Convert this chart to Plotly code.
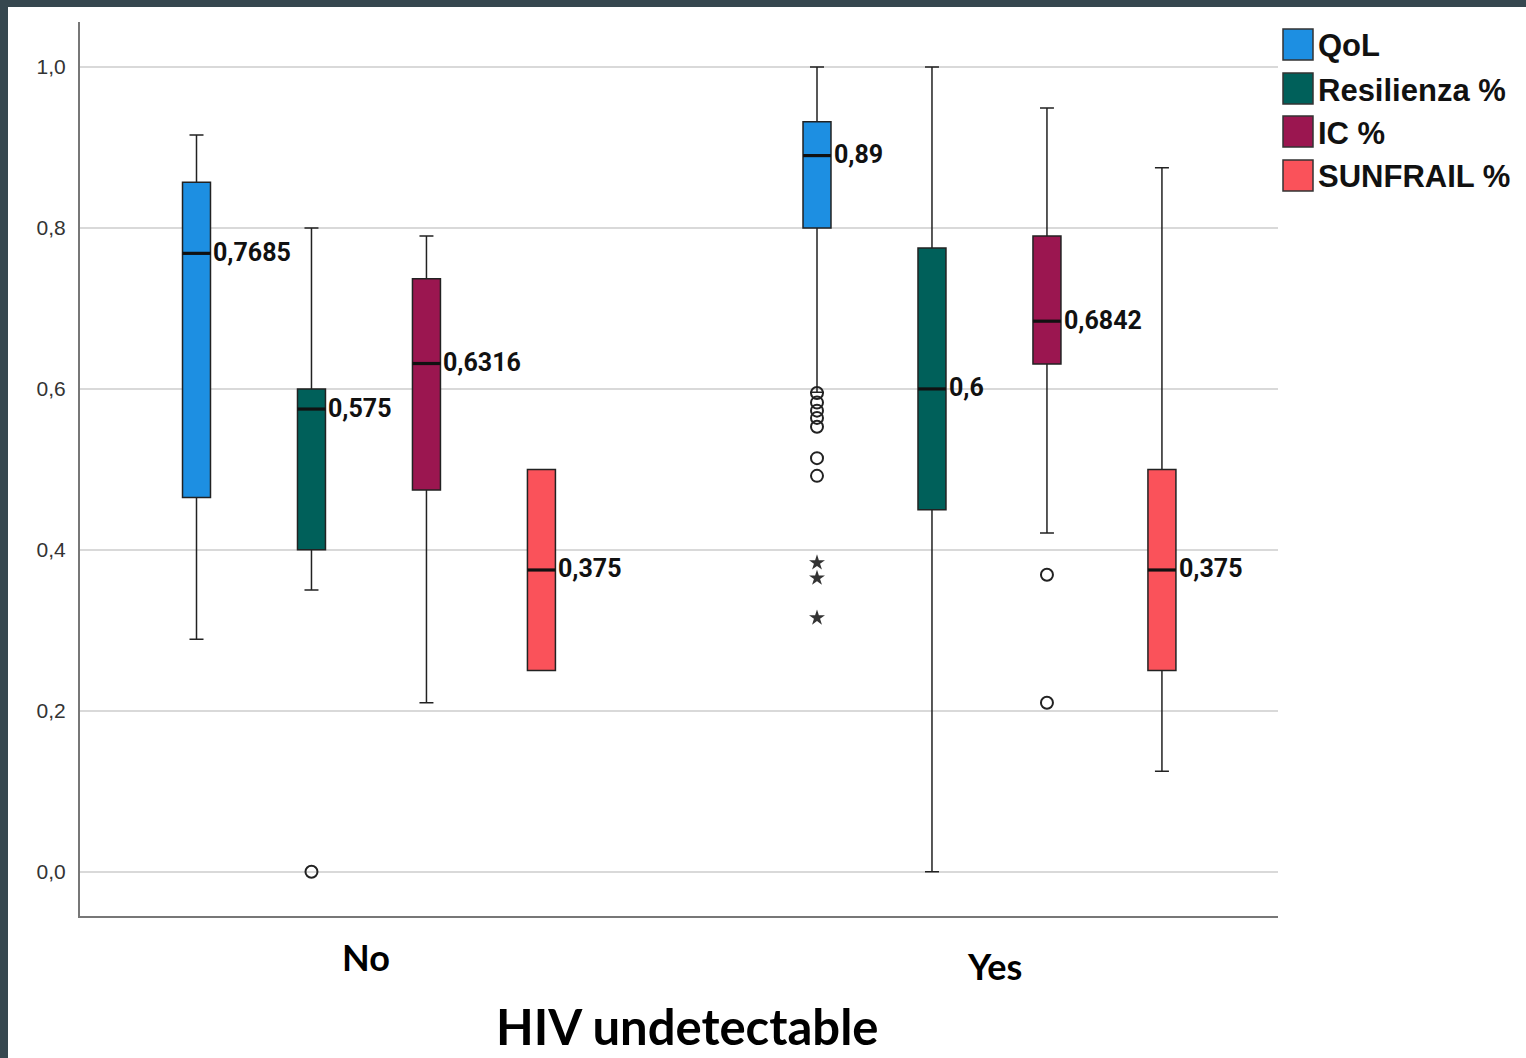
import plotly.graph_objects as go

# ---- data ---------------------------------------------------------------
groups = ["No", "Yes"]
series = ["QoL", "Resilienza %", "IC %", "SUNFRAIL %"]
colors = ["#1d8fe2", "#00605a", "#9b1650", "#fa525a"]

# per series: values for [No, Yes]
q1 = {
    "QoL": [0.465, 0.80],
    "Resilienza %": [0.40, 0.45],
    "IC %": [0.4745, 0.631],
    "SUNFRAIL %": [0.25, 0.25],
}
median = {
    "QoL": [0.7685, 0.89],
    "Resilienza %": [0.575, 0.6],
    "IC %": [0.6316, 0.6842],
    "SUNFRAIL %": [0.375, 0.375],
}
q3 = {
    "QoL": [0.857, 0.932],
    "Resilienza %": [0.60, 0.775],
    "IC %": [0.737, 0.79],
    "SUNFRAIL %": [0.50, 0.50],
}
lower_whisker = {
    "QoL": [0.289, 0.596],
    "Resilienza %": [0.35, 0.0],
    "IC %": [0.21, 0.421],
    "SUNFRAIL %": [0.25, 0.125],
}
upper_whisker = {
    "QoL": [0.9155, 1.0],
    "Resilienza %": [0.80, 1.0],
    "IC %": [0.79, 0.949],
    "SUNFRAIL %": [0.50, 0.875],
}
# outliers (circles) and extreme values (stars): (group, series, values)
outliers = [
    ("No", "Resilienza %", [0.0]),
    ("Yes", "QoL", [0.595, 0.583, 0.573, 0.564, 0.553, 0.514, 0.492]),
    ("Yes", "IC %", [0.369, 0.21]),
]
extremes = [
    ("Yes", "QoL", [0.384, 0.365, 0.3155]),
]

y_ticks = [0.0, 0.2, 0.4, 0.6, 0.8, 1.0]

# ---- layout geometry ----------------------------------------------------
W, H = 1526, 1058
ML, MR, MT, MB = 80, 248, 22, 142
PW, PH = W - ML - MR, H - MT - MB
SLOT = 0.1853          # horizontal distance between boxes inside a group
BOX_W = 0.0451         # box width in axis units
X_RANGE = [-0.4657, 1.4650]
Y_RANGE = [-0.055, 1.056]


def px_x(px):
    return (px - ML) / PW


def px_y(py):
    return (H - MB - py) / PH


def pos(group, s):
    return groups.index(group) + (series.index(s) - 1.5) * SLOT


def fmt(v):
    return f"{v:g}".replace(".", ",")


fig = go.Figure()

for s, c in zip(series, colors):
    xs = [pos(g, s) for g in groups]
    fig.add_trace(go.Box(
        x=xs, q1=q1[s], median=median[s], q3=q3[s],
        lowerfence=lower_whisker[s], upperfence=upper_whisker[s],
        width=BOX_W, whiskerwidth=0.5,
        fillcolor=c, line=dict(color="#222222", width=1.5),
        boxpoints=False, name=s, showlegend=False, hoverinfo="skip",
    ))
    # thick median bars with their value labels
    for x, m in zip(xs, median[s]):
        fig.add_trace(go.Scatter(
            x=[x - BOX_W / 2, x + BOX_W / 2], y=[m, m], mode="lines",
            line=dict(color="#111111", width=3.2),
            showlegend=False, hoverinfo="skip",
        ))
        fig.add_annotation(
            x=x + BOX_W / 2, y=m, text=f"<b>{fmt(m)}</b>", showarrow=False,
            xanchor="left", yanchor="middle", xshift=1, yshift=1,
            font=dict(family="Roboto", size=25, color="#111111"),
        )

for g, s, vals in outliers:
    fig.add_trace(go.Scatter(
        x=[pos(g, s)] * len(vals), y=vals, mode="markers",
        marker=dict(symbol="circle-open", size=12, color="#222222",
                    line=dict(width=2, color="#222222")),
        showlegend=False, hoverinfo="skip",
    ))

for g, s, vals in extremes:
    fig.add_trace(go.Scatter(
        x=[pos(g, s)] * len(vals), y=vals, mode="markers",
        marker=dict(symbol="star", size=12, color="#333333"),
        showlegend=False, hoverinfo="skip",
    ))

shapes = []
annotations = []

# legend drawn as swatches + labels
legend_top = [29, 73, 116, 160]
for s, c, top in zip(series, colors, legend_top):
    shapes.append(dict(
        type="rect", xref="paper", yref="paper",
        x0=px_x(1283), x1=px_x(1313), y0=px_y(top + 31), y1=px_y(top),
        fillcolor=c, line=dict(color="#333333", width=1.5),
    ))
    annotations.append(dict(
        xref="paper", yref="paper", x=px_x(1316), y=px_y(top + 17),
        text=f"<b>{s}</b>", showarrow=False, xanchor="left", yanchor="middle",
        font=dict(family="Liberation Sans, Arial", size=31, color="#111111"),
    ))

# slide frame (dark strips along the top and left edge)
shapes.append(dict(type="rect", xref="paper", yref="paper",
                   x0=px_x(0), x1=px_x(W), y0=px_y(7), y1=px_y(0),
                   fillcolor="#36474f", line=dict(width=0), layer="above"))
shapes.append(dict(type="rect", xref="paper", yref="paper",
                   x0=px_x(0), x1=px_x(8), y0=px_y(H), y1=px_y(0),
                   fillcolor="#36474f", line=dict(width=0), layer="above"))

# category labels and axis title
cat_font = dict(family="Lato", size=36, color="#000000")
annotations.append(dict(xref="paper", yref="paper", x=px_x(366), y=px_y(957),
                        text="<b>No</b>", showarrow=False, font=cat_font,
                        xanchor="center", yanchor="middle"))
annotations.append(dict(xref="paper", yref="paper", x=px_x(995), y=px_y(966),
                        text="<b>Yes</b>", showarrow=False, font=cat_font,
                        xanchor="center", yanchor="middle"))
annotations.append(dict(xref="paper", yref="paper", x=px_x(687), y=px_y(1026),
                        text="<b>HIV undetectable</b>", showarrow=False,
                        font=dict(family="Lato", size=49, color="#000000"),
                        xanchor="center", yanchor="middle"))

fig.update_layout(
    width=W, height=H,
    margin=dict(l=ML, r=MR, t=MT, b=MB, pad=0),
    paper_bgcolor="white", plot_bgcolor="white",
    separators=",.",
    boxmode="overlay",
    showlegend=False,
    shapes=shapes,
    annotations=list(fig.layout.annotations) + annotations,
    xaxis=dict(range=X_RANGE, showgrid=False, zeroline=False,
               showticklabels=False, ticks="",
               showline=True, linecolor="#777777", linewidth=2),
    yaxis=dict(range=Y_RANGE, tickvals=y_ticks, tickformat=".1f",
               showgrid=True, gridcolor="#d9d9d9", gridwidth=2,
               zeroline=False, ticks="",
               showline=True, linecolor="#777777", linewidth=2,
               tickfont=dict(family="Liberation Sans, Arial", size=21, color="#333333"),
               ticklabelstandoff=8),
)

fig.write_html("out.html")
